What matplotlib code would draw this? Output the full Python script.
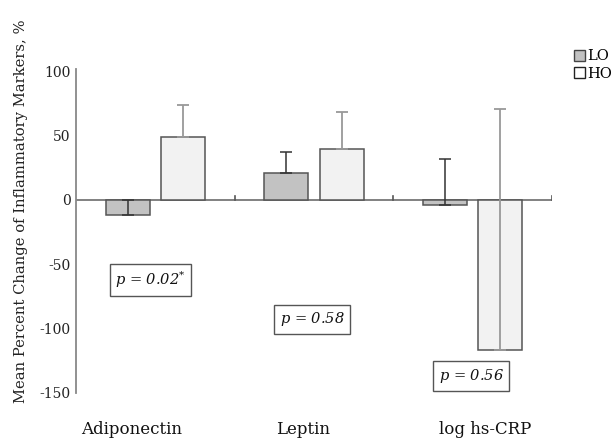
import matplotlib
matplotlib.use("Agg")
import matplotlib.pyplot as plt
import numpy as np
from matplotlib.patches import Patch

categories = ["Adiponectin", "Leptin", "log hs-CRP"]
lo_values = [-12, 21, -4]
lo_errors = [12, 16.5, 36]
ho_values = [49, 39.5, -117]
ho_errors = [25, 29, 188]
p_labels = [r"$p$ = 0.02$^{*}$", r"$p$ = 0.58", r"$p$ = 0.56"]
p_ypos = [-62.5, -93, -137.5]
yticks = [100, 50, 0, -50, -100, -150]

plt.rcParams['font.family'] = ['DejaVu Serif']
plt.rcParams['mathtext.fontset'] = 'dejavuserif'

fig = plt.figure(figsize=(6.14, 4.40), dpi=100)
ax = fig.add_axes([0.1238, 0.1061, 0.7752, 0.7362])

x = np.arange(len(categories))
w = 0.278
off = 0.175
ax.bar(x - off, lo_values, w, color="#c2c2c2", edgecolor="#555555", linewidth=1.1, zorder=2)
ax.bar(x + off, ho_values, w, color="#f2f2f2", edgecolor="#555555", linewidth=1.1, zorder=2)
ax.errorbar(x - off, lo_values, yerr=[np.zeros(3), lo_errors], fmt="none",
            ecolor="#333333", elinewidth=1.1, capsize=4.5, capthick=1.1, zorder=3)
ax.errorbar(x + off, ho_values, yerr=[np.zeros(3), ho_errors], fmt="none",
            ecolor="#999999", elinewidth=1.3, capsize=4.5, capthick=1.3, zorder=3)

ax.axhline(0, color="#777777", linewidth=1.3, zorder=1)
for b in [0.5, 1.5, 2.5]:
    ax.plot([b, b], [0, 3.2], color="#555555", linewidth=1.2, zorder=1)

ax.set_xlim(-0.5, 2.5)
ax.set_ylim(-151, 102)
for s in ["top", "right", "bottom"]:
    ax.spines[s].set_visible(False)
ax.spines["left"].set_color("#888888")
ax.spines["left"].set_linewidth(1.3)
ax.set_yticks(yticks)
ax.set_yticklabels([str(t) for t in yticks], fontsize=10, color="#222222")
ax.tick_params(axis="y", length=0, pad=4)

label_pos = [-0.15, 0.93, 2.08]
ax.set_xticks(label_pos)
ax.set_xticklabels(categories, fontsize=12, color="#111111")
ax.tick_params(axis="x", length=0, pad=20)

ax.set_ylabel("Mean Percent Change of Inflammatory Markers, %", fontsize=10.6, color="#222222")
ax.yaxis.set_label_coords(-0.101, 0.563)

for i, (lab, yp) in enumerate(zip(p_labels, p_ypos)):
    ax.text(i - 0.03 if i == 0 else i - 0.01, yp, lab, ha="center", va="center", fontsize=10.5,
            style="italic", color="#111111",
            bbox=dict(boxstyle="square,pad=0.38", facecolor="white", edgecolor="#555555", linewidth=1.0),
            zorder=4)

handles = [Patch(facecolor="#c2c2c2", edgecolor="#444444", label="LO"),
           Patch(facecolor="white", edgecolor="#222222", label="HO")]
fig.legend(handles=handles, loc="upper left", bbox_to_anchor=(0.935, 0.888), frameon=False,
           fontsize=10.5, handlelength=0.75, handleheight=0.75, handletextpad=0.12,
           labelspacing=0.25, borderaxespad=0, borderpad=0)

fig.savefig("out.png", dpi=100)
